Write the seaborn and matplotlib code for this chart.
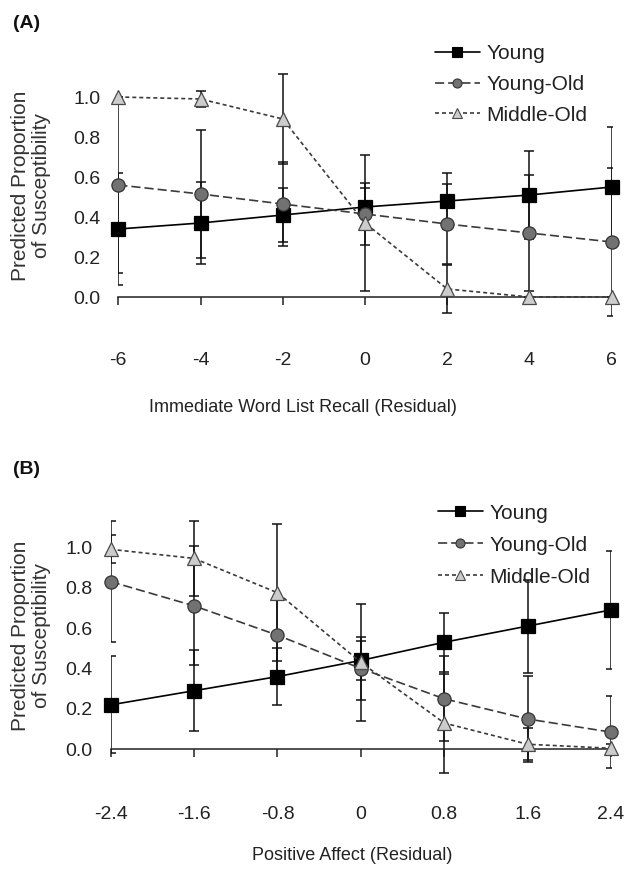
import numpy as np
import pandas as pd
import matplotlib
matplotlib.use("Agg")
import matplotlib.pyplot as plt
from matplotlib.lines import Line2D
import seaborn as sns

sns.set_style("white")
plt.rcParams["font.family"] = ["Liberation Sans", "DejaVu Sans"]

# ---------------- data ----------------
groups = ["Young", "Young-Old", "Middle-Old"]

x_a = [-6, -4, -2, 0, 2, 4, 6]
young_a = [0.34, 0.37, 0.41, 0.45, 0.48, 0.51, 0.55]
young_old_a = [0.56, 0.515, 0.465, 0.415, 0.365, 0.32, 0.275]
middle_old_a = [1.0, 0.99, 0.89, 0.37, 0.04, 0.0, 0.0]
young_a_err = [0.28, 0.205, 0.135, 0.095, 0.14, 0.22, 0.30]
young_old_a_err = [0.44, 0.32, 0.21, 0.155, 0.20, 0.29, 0.37]
middle_old_a_err = [0.0, 0.04, 0.225, 0.34, 0.12, 0.0, 0.0]
xticklabels_a = ["-6", "-4", "-2", "0", "2", "4", "6"]

x_b = [-2.4, -1.6, -0.8, 0, 0.8, 1.6, 2.4]
young_b = [0.22, 0.29, 0.36, 0.44, 0.53, 0.61, 0.69]
young_old_b = [0.83, 0.71, 0.565, 0.40, 0.25, 0.15, 0.085]
middle_old_b = [0.99, 0.945, 0.775, 0.43, 0.13, 0.025, 0.005]
young_b_err = [0.24, 0.20, 0.14, 0.095, 0.145, 0.23, 0.29]
young_old_b_err = [0.30, 0.295, 0.18, 0.155, 0.21, 0.215, 0.18]
middle_old_b_err = [0.07, 0.185, 0.34, 0.29, 0.245, 0.08, 0.02]
xticklabels_b = ["-2.4", "-1.6", "-0.8", "0", "0.8", "1.6", "2.4"]

yticks = [0.0, 0.2, 0.4, 0.6, 0.8, 1.0]
yticklabels = ["0.0", "0.2", "0.4", "0.6", "0.8", "1.0"]

xlabel_a = "Immediate Word List Recall (Residual)"
xlabel_b = "Positive Affect (Residual)"
ylabel = "Predicted Proportion\nof Susceptibility"

# ---------------- styles ----------------
styles = {
    "Young": dict(color="black", marker="s", markerfacecolor="black",
                  markeredgecolor="black", linestyle="-", ms=10),
    "Young-Old": dict(color="#3a3a3a", marker="o", markerfacecolor="#727272",
                      markeredgecolor="#333333", linestyle=(0, (5.5, 2.4)), ms=9.5),
    "Middle-Old": dict(color="#3a3a3a", marker="^", markerfacecolor="#cccccc",
                       markeredgecolor="#4a4a4a", linestyle=(0, (2.4, 1.8)), ms=10.5),
}

W, H = 627, 869
fig = plt.figure(figsize=(W / 100, H / 100), dpi=100)


def make_df(x, ys):
    rows = []
    for g, yv in zip(groups, ys):
        for xi, yi in zip(x, yv):
            rows.append({"x": xi, "value": yi, "group": g})
    return pd.DataFrame(rows)


def panel(rect_px, x, ys, errs, xtl, xlabel, xpad, xlab_pos, ylab_pos,
          leg_pos, leg_spacing):
    l, b, r, t = rect_px
    ax = fig.add_axes([l / W, (H - b) / H, (r - l) / W, (b - t) / H])
    df = make_df(x, ys)
    # error bars (beneath markers)
    for g, yv, ev in zip(groups, ys, errs):
        ax.errorbar(x, yv, yerr=ev, fmt="none", ecolor="#111111",
                    elinewidth=1.1, capsize=3.4, capthick=1.1, zorder=2)
    for g in groups:
        st = styles[g]
        sns.lineplot(data=df[df["group"] == g], x="x", y="value", ax=ax,
                     color=st["color"], marker=st["marker"],
                     markerfacecolor=st["markerfacecolor"],
                     markeredgecolor=st["markeredgecolor"],
                     markeredgewidth=0.9, markersize=st["ms"],
                     linestyle=st["linestyle"], linewidth=1.2,
                     errorbar=None, legend=False, zorder=4, clip_on=False)
    ax.set_xlim(x[0], x[-1])
    ax.set_ylim(-0.2, 1.2)
    ax.set_xticks(x)
    ax.set_xticklabels(xtl)
    ax.set_yticks(yticks)
    ax.set_yticklabels(yticklabels)
    for s in ["top", "right", "left"]:
        ax.spines[s].set_visible(False)
    ax.spines["bottom"].set_position(("data", 0))
    ax.spines["bottom"].set_color("#222222")
    ax.spines["bottom"].set_linewidth(1.1)
    ax.spines["bottom"].set_zorder(3)
    ax.tick_params(axis="x", direction="out", length=5.8, width=1.1,
                   color="#222222", pad=xpad, labelsize=14, labelcolor="#222222",
                   bottom=True)
    ax.tick_params(axis="y", length=0, pad=13, labelsize=14, labelcolor="#222222",
                   left=True)
    ax.set_xlabel(xlabel, fontsize=13, color="#222222")
    ax.xaxis.label.set_va("center")
    ax.xaxis.set_label_coords((xlab_pos[0] - l) / (r - l), (b - xlab_pos[1]) / (b - t))
    ax.set_ylabel(ylabel, fontsize=15, color="#333333", linespacing=1.1)
    ax.yaxis.label.set_va("center")
    ax.yaxis.label.set_ha("center")
    ax.yaxis.set_label_coords((ylab_pos[0] - l) / (r - l), (b - ylab_pos[1]) / (b - t))
    ax.grid(False)
    handles = []
    for g in groups:
        st = styles[g]
        handles.append(Line2D([], [], color=st["color"], marker=st["marker"],
                              markerfacecolor=st["markerfacecolor"],
                              markeredgecolor=st["markeredgecolor"],
                              markeredgewidth=0.8, markersize=6.5,
                              linestyle=st["linestyle"], linewidth=1.2))
    ax.legend(handles, groups, loc="upper left",
              bbox_to_anchor=(leg_pos[0] / W, 1 - leg_pos[1] / H),
              bbox_transform=fig.transFigure, frameon=False, fontsize=15,
              handlelength=2.15, handletextpad=0.3, borderpad=0,
              borderaxespad=0, labelspacing=leg_spacing, labelcolor="#222222")
    return ax


# panel A : 0.0 at y=297 px, 1.0 at y=97 px -> ylim(-0.2,1.2) spans 57..337
panel((118.3, 337, 611.7, 57), x_a, [young_a, young_old_a, middle_old_a],
      [young_a_err, young_old_a_err, middle_old_a_err], xticklabels_a, xlabel_a,
      xpad=33.5, xlab_pos=(303, 408), ylab_pos=(31, 186),
      leg_pos=(435, 44), leg_spacing=0.57)

# panel B : 0.0 at y=749.3 px, 1.0 at y=547.3 px
panel((110.7, 789.7, 611.0, 506.9), x_b, [young_b, young_old_b, middle_old_b],
      [young_b_err, young_old_b_err, middle_old_b_err], xticklabels_b, xlabel_b,
      xpad=35, xlab_pos=(352, 855), ylab_pos=(31, 636),
      leg_pos=(438, 503.7), leg_spacing=0.62)

fig.text(13 / W, 1 - 24 / H, "(A)", fontsize=14, fontweight="bold", va="center",
         ha="left", color="#111111")
fig.text(13 / W, 1 - 470 / H, "(B)", fontsize=14, fontweight="bold", va="center",
         ha="left", color="#111111")

fig.savefig("out.png", dpi=100, facecolor="white")
